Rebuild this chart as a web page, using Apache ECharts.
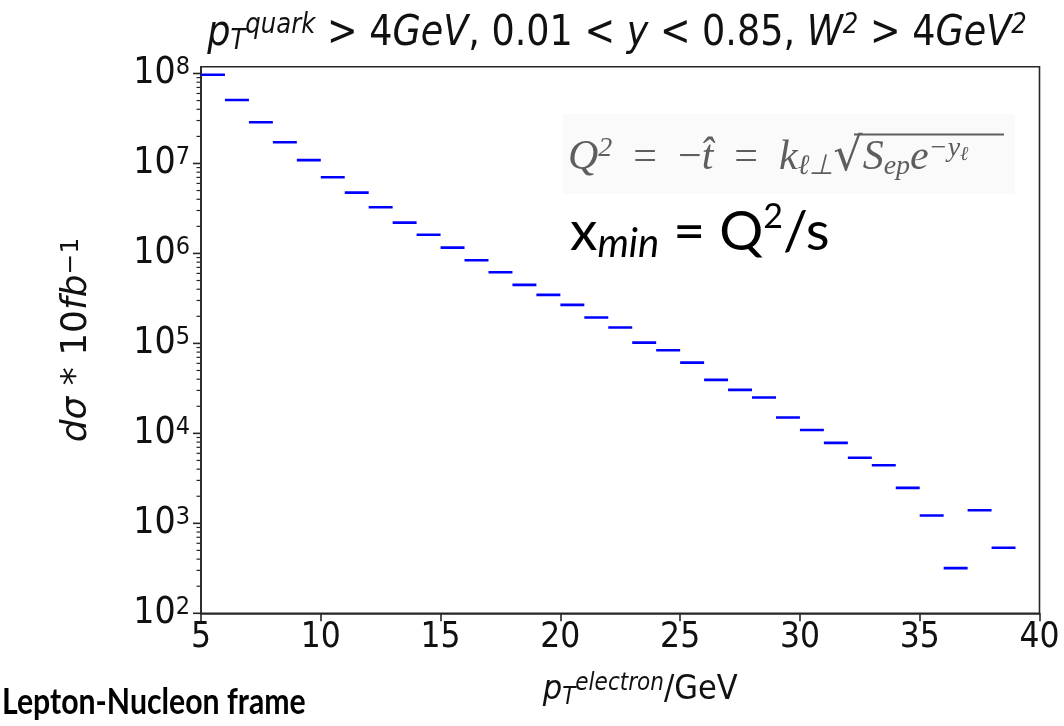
<!DOCTYPE html>
<html><head><meta charset="utf-8">
<script src="https://cdn.jsdelivr.net/npm/echarts@6/dist/echarts.min.js"></script>
<style>html,body{margin:0;padding:0;background:#fff}#c{width:1064px;height:726px}</style>
</head><body><div id="c"></div>
<script>
// ---- data ----
const binLow  = [5,6,7,8,9,10,11,12,13,14,15,16,17,18,19,20,21,22,23,24,25,26,27,28,29,30,31,32,33,34,35,36,37,38];
const binHigh = [6,7,8,9,10,11,12,13,14,15,16,17,18,19,20,21,22,23,24,25,26,27,28,29,30,31,32,33,34,35,36,37,38,39];
const sigma = [9.7e7, 5.08e7, 2.87e7, 1.72e7, 1.09e7, 7.03e6, 4.74e6, 3.26e6, 2.20e6, 1.61e6,
               1.16e6, 8.40e5, 6.18e5, 4.47e5, 3.46e5, 2.68e5, 1.94e5, 1.50e5, 1.02e5, 8.40e4,
               6.12e4, 3.93e4, 3.04e4, 2.50e4, 1.50e4, 1.09e4, 7.84e3, 5.35e3, 4.43e3, 2.48e3,
               1.22e3, 318, 1.40e3, 535];
const xMin = 5, xMax = 40, xStep = 5;
const yMin = 1e2, yMax = 1.19e8;
const yDecadeExps = [2,3,4,5,6,7,8];
const yMinorMults = [2,3,4,5,6,7,8,9];

const SANS = "'DejaVu Sans Condensed', 'DejaVu Sans', sans-serif";

// tick positions for the log axis (major + minor), drawn through the axis scale
const yTickData = [];
yDecadeExps.forEach(e => {
  yTickData.push([xMin, Math.pow(10, e), 1]);
  if (e < 8) yMinorMults.forEach(m => yTickData.push([xMin, m * Math.pow(10, e), 0]));
});

const chart = echarts.init(document.getElementById('c'), null, {renderer: 'canvas'});

const option = {
  backgroundColor: '#ffffff',
  animation: false,
  grid: {
    left: 201, right: 24.5, top: 66.7, bottom: 112.7,
    show: true, borderColor: '#262626', borderWidth: 1.6,
    backgroundColor: 'transparent',
    outerBoundsMode: 'none', containLabel: false
  },
  xAxis: {
    type: 'value', min: xMin, max: xMax, interval: xStep,
    axisLine: {show: true, lineStyle: {color: '#262626', width: 1.6}},
    axisTick: {show: true, inside: false, length: 8, lineStyle: {color: '#262626', width: 1.6}},
    splitLine: {show: false},
    axisLabel: {color: '#111', fontFamily: SANS, fontSize: 35, margin: 7},
    name: '{i|p}{sub|T}{sup|electron}{n|/GeV}',
    nameLocation: 'middle', nameGap: 58,
    nameTextStyle: {
      color: '#111', padding: [0, 0, 0, 40],
      rich: {
        i: {fontFamily: SANS, fontSize: 34, fontStyle: 'italic', color: '#111'},
        n: {fontFamily: SANS, fontSize: 34, color: '#111'},
        sub: {fontFamily: SANS, fontSize: 24, fontStyle: 'italic', verticalAlign: 'bottom', color: '#111', padding: [14, 0, 0, 0]},
        sup: {fontFamily: SANS, fontSize: 24, fontStyle: 'italic', verticalAlign: 'top', color: '#111'}
      }
    }
  },
  yAxis: {
    type: 'log', logBase: 10, min: yMin, max: yMax,
    axisLine: {show: true, lineStyle: {color: '#262626', width: 1.6}},
    axisTick: {show: false},
    splitLine: {show: false},
    minorTick: {show: false},
    axisLabel: {
      margin: 11,
      formatter: function (v) {
        const l = Math.log10(v), e = Math.round(l);
        if (Math.abs(l - e) > 1e-6 || e > 8) return '';
        return '{b|10}{s|' + e + '}';
      },
      rich: {
        b: {fontFamily: SANS, fontSize: 37, color: '#111'},
        s: {fontFamily: SANS, fontSize: 25, color: '#111', verticalAlign: 'top'}
      }
    },
    name: '{i|d\u03c3}{n| * 10}{i|fb}{sup|\u22121}',
    nameLocation: 'middle', nameGap: 106,
    nameTextStyle: {
      rich: {
        i: {fontFamily: 'DejaVu Sans', fontSize: 36, fontStyle: 'italic', color: '#111'},
        n: {fontFamily: 'DejaVu Sans', fontSize: 36, color: '#111'},
        sup: {fontFamily: 'DejaVu Sans', fontSize: 25, color: '#111', verticalAlign: 'top'}
      }
    }
  },
  series: [
    {
      name: 'y ticks', type: 'custom', coordinateSystem: 'cartesian2d', clip: false, silent: true,
      data: yTickData, encode: {x: 0, y: 1},
      renderItem: function (params, api) {
        const p = api.coord([api.value(0), api.value(1)]);
        const len = api.value(2) ? 8 : 4.5;
        return {type: 'line', shape: {x1: p[0] - len, y1: p[1], x2: p[0], y2: p[1]},
                style: {stroke: '#262626', lineWidth: api.value(2) ? 1.6 : 1.2}};
      }
    },
    {
      name: 'dsigma', type: 'custom', coordinateSystem: 'cartesian2d', clip: true,
      data: binLow.map((x, i) => [x, binHigh[i], sigma[i]]),
      encode: {x: [0, 1], y: 2},
      renderItem: function (params, api) {
        const p0 = api.coord([api.value(0), api.value(2)]);
        const p1 = api.coord([api.value(1), api.value(2)]);
        return {type: 'line', shape: {x1: p0[0], y1: p0[1], x2: p1[0], y2: p1[1]},
                style: {stroke: '#0000ff', lineWidth: 2.6, lineCap: 'butt'}};
      }
    }
  ],
  graphic: [
    {
      type: 'text', x: 617, y: 34, scaleX: 0.87,
      style: {
        text: '{i|p}{sub|T}{sup|quark}{n| > 4}{i|GeV}{n|, 0.01 < }{i|y}{n| < 0.85, }{i|W}{sup|2}{n| > 4}{i|GeV}{sup|2}',
        align: 'center', verticalAlign: 'middle',
        rich: {
          i: {fontFamily: 'DejaVu Sans', fontSize: 42, fontStyle: 'italic', fill: '#111'},
          n: {fontFamily: 'DejaVu Sans', fontSize: 42, fill: '#111'},
          sub: {fontFamily: 'DejaVu Sans', fontSize: 28, fontStyle: 'italic', fill: '#111', verticalAlign: 'bottom', padding: [16, 0, 0, 0]},
          sup: {fontFamily: 'DejaVu Sans', fontSize: 28, fontStyle: 'italic', fill: '#111', verticalAlign: 'top'}
        }
      }
    },
    {
      type: 'rect', shape: {x: 563, y: 114, width: 452, height: 80},
      style: {fill: '#fafafa'}, z: 1
    },
    {
      type: 'text', x: 568, y: 158, z: 2,
      style: {
        text: '{i|Q}{sup|2}{n|  =  \u2212}{i|t\u0302}{n|  =  }{i|k}{sub|\u2113\u22a5}{r|\u221a}{i|S}{sub|ep}{i|e}{sup|\u2212y}{ss|\u2113}',
        align: 'left', verticalAlign: 'middle',
        rich: {
          i: {fontFamily: 'Liberation Serif', fontSize: 42, fontStyle: 'italic', fill: '#5e5e5e'},
          n: {fontFamily: 'Liberation Serif', fontSize: 42, fill: '#5e5e5e'},
          r: {fontFamily: 'DejaVu Serif', fontSize: 46, fill: '#5e5e5e'},
          sub: {fontFamily: 'Liberation Serif', fontSize: 28, fontStyle: 'italic', fill: '#5e5e5e', verticalAlign: 'bottom', padding: [14, 0, 0, 0]},
          sup: {fontFamily: 'Liberation Serif', fontSize: 28, fontStyle: 'italic', fill: '#5e5e5e', verticalAlign: 'top'},
          ss: {fontFamily: 'Liberation Serif', fontSize: 20, fontStyle: 'italic', fill: '#5e5e5e', verticalAlign: 'top', padding: [10, 0, 0, 0]}
        }
      }
    },
    {
      type: 'line', z: 2,
      shape: {x1: 854, y1: 134.5, x2: 1004, y2: 134.5},
      style: {stroke: '#5e5e5e', lineWidth: 2}
    },
    {
      type: 'text', x: 570, y: 232, z: 2,
      style: {
        text: '{n|x}{sub|min}{n| = Q}{sup|2}{n|/s}',
        align: 'left', verticalAlign: 'middle',
        rich: {
          n: {fontFamily: 'Lato', fontSize: 55, fill: '#000'},
          sub: {fontFamily: 'Lato', fontSize: 40, fontStyle: 'italic', fill: '#000', verticalAlign: 'bottom', padding: [24, 0, 0, 0]},
          sup: {fontFamily: 'Lato', fontSize: 34, fill: '#000', verticalAlign: 'top'}
        }
      }
    },
    {
      type: 'text', x: 2, y: 702, scaleX: 0.84,
      style: {
        text: 'Lepton-Nucleon frame', align: 'left', verticalAlign: 'middle',
        fontFamily: 'Lato', fontWeight: 'bold', fontSize: 36, fill: '#000'
      }
    }
  ]
};
chart.setOption(option);
</script>
</body></html>
